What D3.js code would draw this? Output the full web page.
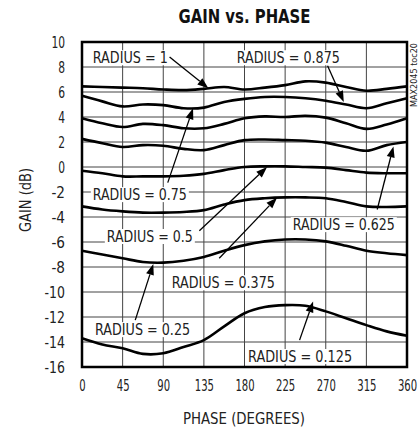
<!DOCTYPE html>
<html>
<head>
<meta charset="utf-8">
<script src="https://cdn.jsdelivr.net/npm/d3@7"></script>
<style>
  body { margin: 0; background: #fff; }
  text { font-family: "Liberation Sans Narrow", "DejaVu Sans Condensed", sans-serif; fill: #222; }
</style>
</head>
<body>
<div class="chart"></div>
<script>
// phase samples (degrees) and gain (dB) per radius
var phase = [0, 22.5, 45, 67.5, 90, 112.5, 135, 157.5, 180, 202.5, 225, 247.5, 270, 292.5, 315, 337.5, 360];
var gain_r1     = [6.45, 6.4, 6.35, 6.3, 6.2, 6.15, 6.25, 6.4, 6.2, 6.35, 6.55, 6.85, 6.75, 6.4, 6.1, 6.25, 6.45];
var gain_r0875  = [5.7, 5.25, 4.85, 5.0, 4.95, 4.7, 4.75, 5.2, 5.45, 5.6, 5.6, 5.5, 5.3, 5.0, 4.7, 5.1, 5.5];
var gain_r075   = [3.9, 3.5, 3.2, 3.45, 3.35, 3.1, 3.1, 3.45, 3.9, 4.05, 4.0, 4.1, 3.95, 3.5, 3.05, 3.4, 3.9];
var gain_r0625  = [2.25, 1.9, 1.6, 1.75, 1.7, 1.45, 1.35, 1.75, 2.15, 2.2, 2.15, 2.1, 1.95, 1.6, 1.3, 1.75, 2.0];
var gain_r05    = [-0.3, -0.5, -0.75, -0.75, -0.75, -0.7, -0.55, -0.25, 0.0, 0.05, 0.05, 0.0, -0.05, -0.25, -0.45, -0.5, -0.5];
var gain_r0375  = [-3.15, -3.4, -3.55, -3.65, -3.65, -3.6, -3.45, -3.0, -2.65, -2.5, -2.43, -2.43, -2.5, -2.8, -3.15, -3.2, -3.15];
var gain_r025   = [-6.7, -7.0, -7.3, -7.6, -7.65, -7.5, -7.2, -6.7, -6.25, -5.95, -5.8, -5.8, -5.95, -6.3, -6.7, -6.9, -7.05];
var gain_r0125  = [-13.7, -14.2, -14.5, -14.95, -14.9, -14.4, -13.85, -12.75, -11.7, -11.2, -11.05, -11.1, -11.55, -12.1, -12.65, -13.15, -13.5];

var series = [gain_r1, gain_r0875, gain_r075, gain_r0625, gain_r05, gain_r0375, gain_r025, gain_r0125];

var xTicks = [0, 45, 90, 135, 180, 225, 270, 315, 360];
var yTicks = [10, 8, 6, 4, 2, 0, -2, -4, -6, -8, -10, -12, -14, -16];

// label text, left/baseline anchor and arrow (from -> tip), all in data units
var labelText  = ["RADIUS = 1", "RADIUS = 0.875", "RADIUS = 0.75", "RADIUS = 0.625", "RADIUS = 0.5", "RADIUS = 0.375", "RADIUS = 0.25", "RADIUS = 0.125"];
var labelAt    = [[12, 8.3], [171.5, 8.3], [12, -2.65], [233.5, -5.05], [27.5, -6.0], [99.5, -9.7], [14.5, -13.45], [184, -15.6]];
var arrowFrom  = [[97, 8.8], [272, 8.1], [95, -1.25], [327, -3.4], [130, -5.1], [152, -7.3], [59, -12.25], [241, -13.85]];
var arrowTo    = [[140, 6.3], [290, 5.2], [123, 4.7], [345, 1.65], [205, 0.0], [216, -2.45], [79, -7.75], [256, -10.75]];

var margin = { top: 42, right: 12, bottom: 61, left: 82 },
    width = 419 - margin.left - margin.right,
    height = 428 - margin.top - margin.bottom;

var x = d3.scaleLinear().domain([0, 360]).range([0, width]);
var y = d3.scaleLinear().domain([-16, 10]).range([height, 0]);

var svg = d3.select(".chart").append("svg")
    .attr("width", 419)
    .attr("height", 428);

svg.append("text")
    .attr("x", 244.5).attr("y", 23)
    .attr("text-anchor", "middle")
    .attr("textLength", 132).attr("lengthAdjust", "spacingAndGlyphs")
    .style("font-size", "20px").style("font-weight", "bold").style("fill", "#111")
    .text("GAIN vs. PHASE");

var g = svg.append("g")
    .attr("transform", "translate(" + margin.left + "," + margin.top + ")");

// grid
g.selectAll(".vgrid").data(xTicks).enter().append("line")
    .attr("x1", function (d) { return x(d); }).attr("x2", function (d) { return x(d); })
    .attr("y1", 0).attr("y2", height)
    .attr("stroke", "#444").attr("stroke-width", 1);
g.selectAll(".hgrid").data(yTicks).enter().append("line")
    .attr("x1", 0).attr("x2", width)
    .attr("y1", function (d) { return y(d); }).attr("y2", function (d) { return y(d); })
    .attr("stroke", "#444").attr("stroke-width", 1);

// axes (labels only)
var xAxis = d3.axisBottom(x).tickValues(xTicks).tickSize(0).tickPadding(13);
var yAxis = d3.axisLeft(y).tickValues(yTicks).tickSize(0).tickPadding(17)
    .tickFormat(function (d) { return d; });

g.append("g").attr("class", "x axis")
    .attr("transform", "translate(0," + height + ")")
    .call(xAxis)
    .call(function (s) { s.select(".domain").remove(); })
    .selectAll("text").style("font-size", "16px").attr("fill", "#222")
    .attr("transform", "scale(0.7,1)");

g.append("g").attr("class", "y axis")
    .call(yAxis)
    .call(function (s) { s.select(".domain").remove(); })
    .selectAll("text").style("font-size", "16px").attr("fill", "#222")
    .attr("textLength", function (d) { return String(d).length * 6.8; })
    .attr("lengthAdjust", "spacingAndGlyphs");

// curves
var line = d3.line()
    .x(function (d, i) { return x(phase[i]); })
    .y(function (d) { return y(d); })
    .curve(d3.curveCatmullRom.alpha(0.5));

g.selectAll(".curve").data(series).enter().append("path")
    .attr("d", line)
    .attr("fill", "none")
    .attr("stroke", "#000")
    .attr("stroke-width", 2.6);

// labels with white boxes
var widths = [75, 103, 94, 102, 86, 103, 95, 104];
labelText.forEach(function (t, i) {
    var lx = x(labelAt[i][0]), ly = y(labelAt[i][1]);
    g.append("rect")
        .attr("x", lx - 2).attr("y", ly - 13)
        .attr("width", widths[i] + 4).attr("height", 15)
        .attr("fill", "#fff");
    g.append("text")
        .attr("x", lx).attr("y", ly)
        .attr("textLength", widths[i]).attr("lengthAdjust", "spacingAndGlyphs")
        .style("font-size", "16px").attr("fill", "#333")
        .text(t);
});

// arrows
labelText.forEach(function (t, i) {
    var x0 = x(arrowFrom[i][0]), y0 = y(arrowFrom[i][1]);
    var x1 = x(arrowTo[i][0]), y1 = y(arrowTo[i][1]);
    var a = Math.atan2(y1 - y0, x1 - x0), len = 11, w = 4;
    var bx = x1 - len * Math.cos(a), by = y1 - len * Math.sin(a);
    g.append("line")
        .attr("x1", x0).attr("y1", y0).attr("x2", bx).attr("y2", by)
        .attr("stroke", "#000").attr("stroke-width", 1.3);
    g.append("path")
        .attr("d", "M" + x1 + "," + y1 +
            "L" + (bx + w * Math.sin(a)) + "," + (by - w * Math.cos(a)) +
            "L" + (bx - w * Math.sin(a)) + "," + (by + w * Math.cos(a)) + "Z")
        .attr("fill", "#000");
});

// frame
g.append("rect")
    .attr("width", width).attr("height", height)
    .attr("fill", "none").attr("stroke", "#000").attr("stroke-width", 2.5);

svg.append("text")
    .attr("transform", "translate(31,200) rotate(-90)")
    .attr("text-anchor", "middle")
    .attr("textLength", 64).attr("lengthAdjust", "spacingAndGlyphs")
    .style("font-size", "15px")
    .text("GAIN (dB)");

svg.append("text")
    .attr("x", 244).attr("y", 424)
    .attr("text-anchor", "middle")
    .attr("textLength", 122).attr("lengthAdjust", "spacingAndGlyphs")
    .style("font-size", "16px")
    .text("PHASE (DEGREES)");

svg.append("text")
    .attr("transform", "translate(417,43) rotate(-90)")
    .attr("text-anchor", "end")
    .attr("textLength", 64).attr("lengthAdjust", "spacingAndGlyphs")
    .style("font-size", "9px").attr("fill", "#555")
    .text("MAX2045 toc20");
</script>
</body>
</html>
